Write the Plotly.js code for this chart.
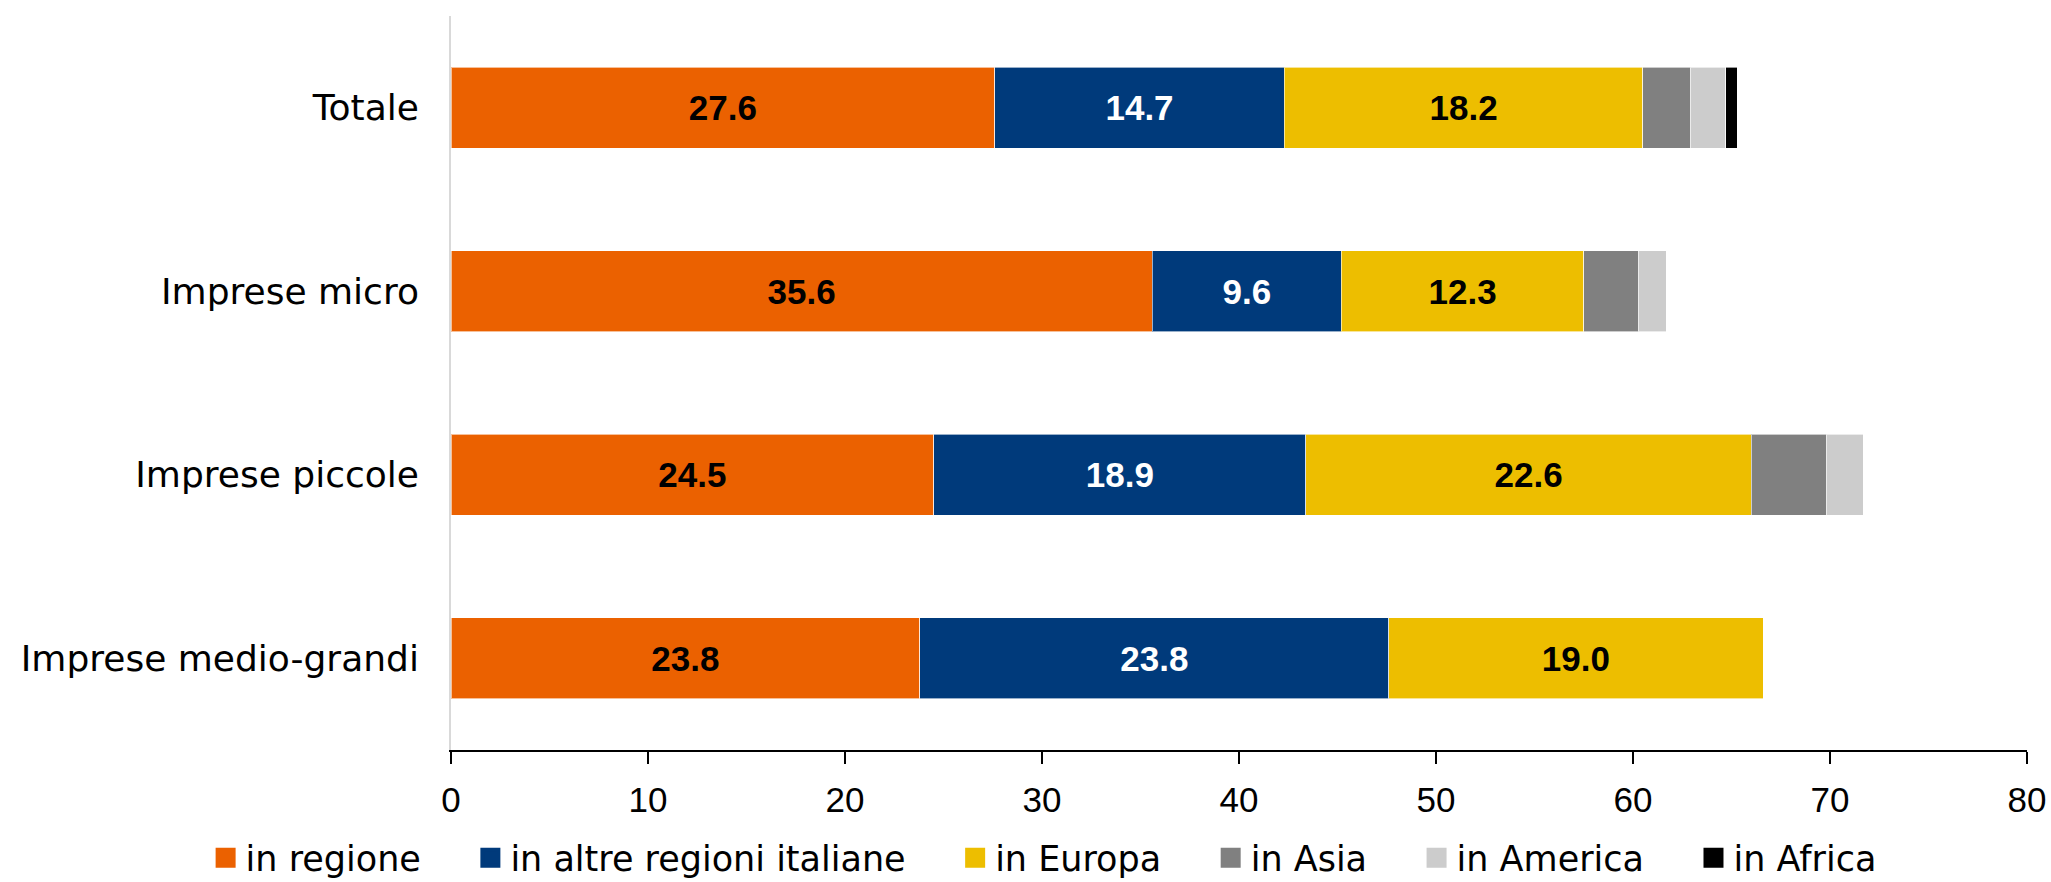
<!DOCTYPE html>
<html>
<head>
<meta charset="utf-8">
<script src="https://cdn.plot.ly/plotly-3.0.1.min.js"></script>
<style>html,body{margin:0;padding:0;background:#fff;}#chart{width:2051px;height:882px;}</style>
</head>
<body>
<div id="chart"></div>
<script>
const categories = ["Totale", "Imprese micro", "Imprese piccole", "Imprese medio-grandi"];
const seriesNames = ["in regione", "in altre regioni italiane", "in Europa", "in Asia", "in America", "in Africa"];
const inRegione = [27.6, 35.6, 24.5, 23.8];
const altreRegioni = [14.7, 9.6, 18.9, 23.8];
const inEuropa = [18.2, 12.3, 22.6, 19.0];
const inAsia = [2.4, 2.8, 3.8, 0];
const inAmerica = [1.8, 1.4, 1.9, 0];
const inAfrica = [0.6, 0, 0, 0];
const seriesValues = [inRegione, altreRegioni, inEuropa, inAsia, inAmerica, inAfrica];
const colors = ["#EB6100", "#003A7B", "#EDBE00", "#808080", "#CCCCCC", "#000000"];
const labelColors = ["#000000", "#FFFFFF", "#000000", null, null, null];
const xTicks = [0, 10, 20, 30, 40, 50, 60, 70, 80];

const FONT = "DejaVu Sans";
const NUMFONT = "Liberation Sans";
const traces = seriesValues.map((vals, i) => {
  const t = {
    type: "bar",
    orientation: "h",
    name: seriesNames[i],
    y: categories,
    x: vals,
    showlegend: false,
    marker: {color: colors[i], line: {color: "rgba(255,255,255,0.6)", width: 1}},
    hoverinfo: "x+name"
  };
  if (labelColors[i]) {
    t.text = vals.map(v => v.toFixed(1));
    t.textposition = "inside";
    t.insidetextanchor = "middle";
    t.textangle = 0;
    t.constraintext = "none";
    t.textfont = {family: NUMFONT, size: 35, color: labelColors[i], weight: "bold"};
  } else {
    t.textposition = "none";
  }
  return t;
});

// legend entries (square swatches); trailing no-break spaces widen the gap between entries
const PAD = "\u00A0\u00A0\u00A0\u00A0";
seriesNames.forEach((name, i) => {
  traces.push({
    type: "scatter", mode: "markers",
    name: i < seriesNames.length - 1 ? name + PAD : name,
    x: [null], y: [null], showlegend: true, hoverinfo: "skip",
    marker: {symbol: "square", size: 16, color: colors[i], line: {color: colors[i], width: 4}}
  });
});

const layout = {
  width: 2051, height: 882,
  margin: {l: 451, r: 24, t: 16, b: 132, autoexpand: false},
  barmode: "stack",
  bargap: 0.56,
  paper_bgcolor: "#fff", plot_bgcolor: "#fff",
  font: {family: FONT, size: 33, color: "#000"},
  xaxis: {
    range: [0, 80], tickvals: xTicks, ticktext: xTicks.map(String),
    showgrid: false, zeroline: false,
    showline: true, linecolor: "#000", linewidth: 2,
    ticks: "outside", ticklen: 12, tickwidth: 2, tickcolor: "#000",
    ticklabelstandoff: 6,
    tickfont: {family: NUMFONT, size: 35, color: "#000"}, fixedrange: true
  },
  yaxis: {
    type: "category", categoryorder: "array", categoryarray: categories,
    autorange: "reversed",
    showgrid: false, zeroline: false,
    showline: true, linecolor: "#D9D9D9", linewidth: 2,
    ticks: "", ticklen: 0, ticksuffix: "  ",
    tickfont: {family: FONT, size: 36, color: "#000"}, fixedrange: true
  },
  showlegend: true,
  legend: {
    orientation: "h", xref: "paper", yref: "paper",
    x: -0.1557, xanchor: "left", y: -0.107, yanchor: "top",
    bgcolor: "rgba(0,0,0,0)",
    font: {family: FONT, size: 35, color: "#000"},
    itemsizing: "trace",
    traceorder: "normal", itemclick: false, itemdoubleclick: false
  }
};

Plotly.newPlot("chart", traces, layout, {displayModeBar: false, responsive: false});
</script>
</body>
</html>
